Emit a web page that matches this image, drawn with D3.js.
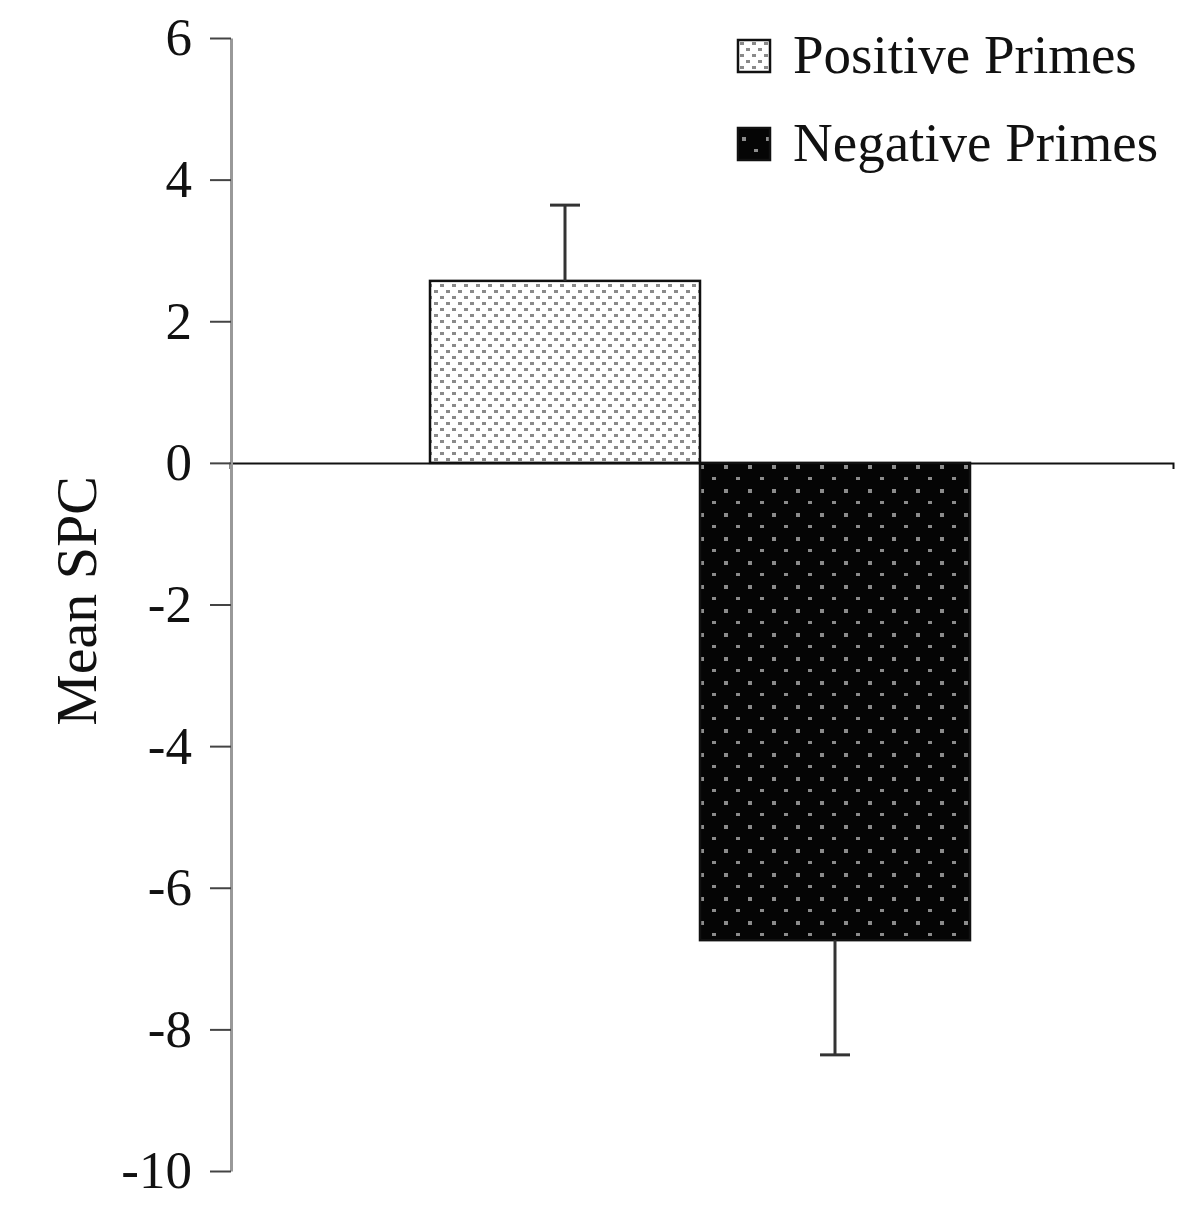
<!DOCTYPE html>
<html>
<head>
<meta charset="utf-8">
<script src="https://cdn.jsdelivr.net/npm/d3@7"></script>
<style>
  body { margin: 0; background: #fff; }
  svg { display: block; }
</style>
</head>
<body>
<script>
// data
const categories = ["Positive Primes", "Negative Primes"];
const means = [2.57, -6.74];
const errors = [1.07, 1.62];
const yTicks = [6, 4, 2, 0, -2, -4, -6, -8, -10];

const width = 1187;
const height = 1210;

const svg = d3.select("body").append("svg")
  .attr("width", width)
  .attr("height", height);

const defs = svg.append("defs");

// light dotted fill
const posPat = defs.append("pattern")
  .attr("id", "pos")
  .attr("patternUnits", "userSpaceOnUse")
  .attr("width", 12).attr("height", 12);
posPat.append("rect").attr("width", 12).attr("height", 12).attr("fill", "#fff");
posPat.append("rect").attr("x", 2).attr("y", 2).attr("width", 4).attr("height", 3).attr("fill", "#8a8a8a");
posPat.append("rect").attr("x", 8).attr("y", 8).attr("width", 4).attr("height", 3).attr("fill", "#8a8a8a");

// dark dotted fill
const negPat = defs.append("pattern")
  .attr("id", "neg")
  .attr("patternUnits", "userSpaceOnUse")
  .attr("width", 24).attr("height", 24);
negPat.append("rect").attr("width", 24).attr("height", 24).attr("fill", "#050505");
negPat.append("rect").attr("x", 4).attr("y", 9).attr("width", 4).attr("height", 4).attr("fill", "#8c8c8c");
negPat.append("rect").attr("x", 16).attr("y", 21).attr("width", 4).attr("height", 4).attr("fill", "#8c8c8c");

const fills = ["url(#pos)", "url(#neg)"];

const y = d3.scaleLinear().domain([-10, 6]).range([1171, 38]);
const x = d3.scaleBand().domain(categories).range([430, 970]).padding(0);

const font = "'Liberation Serif', 'Times New Roman', serif";

// zero line
const xAxis = svg.append("g")
  .attr("transform", `translate(0,${y(0)})`)
  .call(d3.axisBottom(d3.scaleLinear().range([230, 1173])).ticks(0).tickSizeOuter(6));
xAxis.select(".domain").attr("stroke", "#111").attr("stroke-width", 2);

// bars
svg.selectAll("rect.bar")
  .data(means)
  .join("rect")
  .attr("class", "bar")
  .attr("x", (d, i) => x(categories[i]))
  .attr("width", x.bandwidth())
  .attr("y", d => y(Math.max(0, d)))
  .attr("height", d => Math.abs(y(d) - y(0)))
  .attr("fill", (d, i) => fills[i])
  .attr("stroke", "#111")
  .attr("stroke-width", 2.5);

// error bars
const eb = svg.selectAll("g.err")
  .data(means)
  .join("g")
  .attr("class", "err")
  .attr("stroke", "#333")
  .attr("stroke-width", 3);
eb.append("line")
  .attr("x1", (d, i) => x(categories[i]) + x.bandwidth() / 2)
  .attr("x2", (d, i) => x(categories[i]) + x.bandwidth() / 2)
  .attr("y1", d => y(d))
  .attr("y2", (d, i) => y(d + Math.sign(d) * errors[i]));
eb.append("line")
  .attr("x1", (d, i) => x(categories[i]) + x.bandwidth() / 2 - 15)
  .attr("x2", (d, i) => x(categories[i]) + x.bandwidth() / 2 + 15)
  .attr("y1", (d, i) => y(d + Math.sign(d) * errors[i]))
  .attr("y2", (d, i) => y(d + Math.sign(d) * errors[i]));

// y axis
const yAxis = svg.append("g")
  .attr("transform", "translate(231,0)")
  .call(d3.axisLeft(y).tickValues(yTicks).tickSize(21).tickPadding(18).tickSizeOuter(0)
    .tickFormat(d => String(d)));
yAxis.select(".domain").attr("stroke", "#999").attr("stroke-width", 3);
yAxis.selectAll(".tick line").attr("stroke", "#444").attr("stroke-width", 2);
yAxis.selectAll(".tick text")
  .attr("font-family", font)
  .attr("font-size", 53)
  .attr("fill", "#111");

// y label
svg.append("text")
  .attr("transform", `translate(96,${y(-1.95)}) rotate(-90)`)
  .attr("text-anchor", "middle")
  .attr("font-family", font)
  .attr("font-size", 58)
  .attr("fill", "#111")
  .text("Mean SPC");

// legend
const legend = svg.append("g").attr("transform", "translate(738,40)");
const item = legend.selectAll("g")
  .data(categories)
  .join("g")
  .attr("transform", (d, i) => `translate(0,${i * 88})`);
item.append("rect")
  .attr("width", 32).attr("height", 32)
  .attr("fill", (d, i) => fills[i])
  .attr("stroke", "#111").attr("stroke-width", 2.5);
item.append("text")
  .attr("x", 55).attr("y", 33)
  .attr("font-family", font)
  .attr("font-size", 55)
  .attr("fill", "#111")
  .text(d => d);
</script>
</body>
</html>
